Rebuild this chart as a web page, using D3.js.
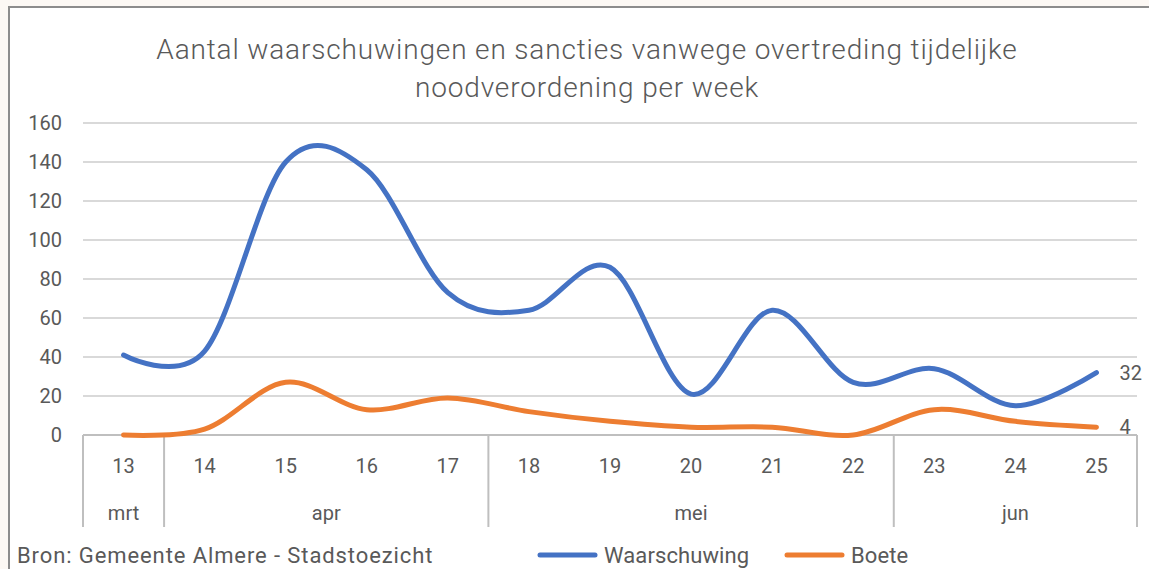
<!DOCTYPE html>
<html>
<head>
<meta charset="utf-8">
<script src="https://cdn.jsdelivr.net/npm/d3@7"></script>
<style>
  html, body { margin: 0; padding: 0; background: #fcf8f4; }
  svg { display: block; }
  text { font-family: Roboto, "Open Sans", sans-serif; fill: #595959; }
</style>
</head>
<body>
<svg id="chart" width="1149" height="569"></svg>
<script>
const weeks = ["13", "14", "15", "16", "17", "18", "19", "20", "21", "22", "23", "24", "25"];
const waarschuwing = [41, 43, 140, 136, 73, 64, 86, 21, 64, 27, 34, 15, 32];
const boete = [0, 3, 27, 13, 19, 12, 7, 4, 4, 0, 13, 7, 4];
const months = ["mrt", "apr", "mei", "jun"];
const monthWeeks = [1, 4, 5, 3];
const yTicks = [0, 20, 40, 60, 80, 100, 120, 140, 160];
const seriesNames = ["Waarschuwing", "Boete"];
const colors = ["#4472c4", "#ed7d31"];

const svg = d3.select("#chart"),
    width = +svg.attr("width"),
    height = +svg.attr("height");

const margin = { left: 83, right: 12, top: 123, bottom: 134 };

// chart frame
svg.append("rect")
    .attr("x", 9).attr("y", 7)
    .attr("width", width + 10).attr("height", height + 10)
    .attr("fill", "#fff")
    .attr("stroke", "#8c8c8c")
    .attr("stroke-width", 2);

const x = d3.scaleBand()
    .domain(weeks)
    .range([margin.left, width - margin.right]);

const y = d3.scaleLinear()
    .domain([0, 160])
    .range([height - margin.bottom, margin.top]);

const cx = d => x(d) + x.bandwidth() / 2;

// title
const title = svg.append("text")
    .attr("text-anchor", "middle")
    .attr("font-size", 28)
    .attr("font-weight", 300)
    .attr("letter-spacing", 0.85);
title.append("tspan").attr("x", 587).attr("y", 59)
    .text("Aantal waarschuwingen en sancties vanwege overtreding tijdelijke");
title.append("tspan").attr("x", 587).attr("y", 97)
    .text("noodverordening per week");

// gridlines
svg.append("g")
    .selectAll("line")
    .data(yTicks.filter(d => d > 0))
    .join("line")
    .attr("x1", x.range()[0]).attr("x2", x.range()[1])
    .attr("y1", d => y(d)).attr("y2", d => y(d))
    .attr("stroke", "#d9d9d9")
    .attr("stroke-width", 2);

// y axis labels
const yAxis = d3.axisLeft(y).tickValues(yTicks).tickSize(0).tickPadding(21);
svg.append("g")
    .attr("transform", `translate(${margin.left},0)`)
    .call(yAxis)
    .call(g => g.select(".domain").remove())
    .call(g => g.selectAll("text")
        .attr("font-size", 20)
        .attr("font-family", "Roboto, sans-serif")
        .attr("fill", "#595959"));

// category axis
const x0 = y(0);
svg.append("line")
    .attr("x1", x.range()[0]).attr("x2", x.range()[1])
    .attr("y1", x0).attr("y2", x0)
    .attr("stroke", "#bfbfbf")
    .attr("stroke-width", 2);

const xAxis = d3.axisBottom(x).tickSize(0).tickPadding(24);
svg.append("g")
    .attr("transform", `translate(0,${x0})`)
    .call(xAxis)
    .call(g => g.select(".domain").remove())
    .call(g => g.selectAll("text")
        .attr("font-size", 20)
        .attr("font-family", "Roboto, sans-serif")
        .attr("fill", "#595959"));

// month groups
let idx = 0;
const groups = months.map((m, i) => {
    const first = weeks[idx], last = weeks[idx + monthWeeks[i] - 1];
    idx += monthWeeks[i];
    return { name: m, x0: x(first), x1: x(last) + x.bandwidth() };
});

const bounds = [groups[0].x0].concat(groups.map(g => g.x1));
svg.append("g")
    .selectAll("line")
    .data(bounds)
    .join("line")
    .attr("x1", d => d).attr("x2", d => d)
    .attr("y1", x0).attr("y2", x0 + 92)
    .attr("stroke", "#bfbfbf")
    .attr("stroke-width", 2);

svg.append("g")
    .selectAll("text")
    .data(groups)
    .join("text")
    .attr("x", d => (d.x0 + d.x1) / 2)
    .attr("y", x0 + 85)
    .attr("text-anchor", "middle")
    .attr("font-size", 20)
    .text(d => d.name);

// lines
const line = d3.line()
    .x((d, i) => cx(weeks[i]))
    .y(d => y(d))
    .curve(d3.curveCatmullRom.alpha(0));

[waarschuwing, boete].forEach((s, i) => {
    svg.append("path")
        .datum(s)
        .attr("d", line)
        .attr("fill", "none")
        .attr("stroke", colors[i])
        .attr("stroke-width", 5)
        .attr("stroke-linecap", "round");

    // end label
    const last = s.length - 1;
    svg.append("text")
        .attr("x", cx(weeks[last]) + 23)
        .attr("y", y(s[last]))
        .attr("dy", "0.36em")
        .attr("font-size", 20)
        .attr("fill", "#404040")
        .text(s[last]);
});

// source
svg.append("text")
    .attr("x", 17).attr("y", 563)
    .attr("font-size", 22)
    .attr("letter-spacing", 0.9)
    .text("Bron: Gemeente Almere - Stadstoezicht");

// legend
const legend = svg.append("g")
    .selectAll("g")
    .data(seriesNames)
    .join("g")
    .attr("transform", (d, i) => `translate(${[540, 787][i]},555)`);

legend.append("line")
    .attr("x1", 0).attr("x2", 55)
    .attr("stroke", (d, i) => colors[i])
    .attr("stroke-width", 5)
    .attr("stroke-linecap", "round");

legend.append("text")
    .attr("x", 64)
    .attr("dy", "0.35em")
    .attr("font-size", 22)
    .attr("letter-spacing", 0.1)
    .text(d => d);
</script>
</body>
</html>
